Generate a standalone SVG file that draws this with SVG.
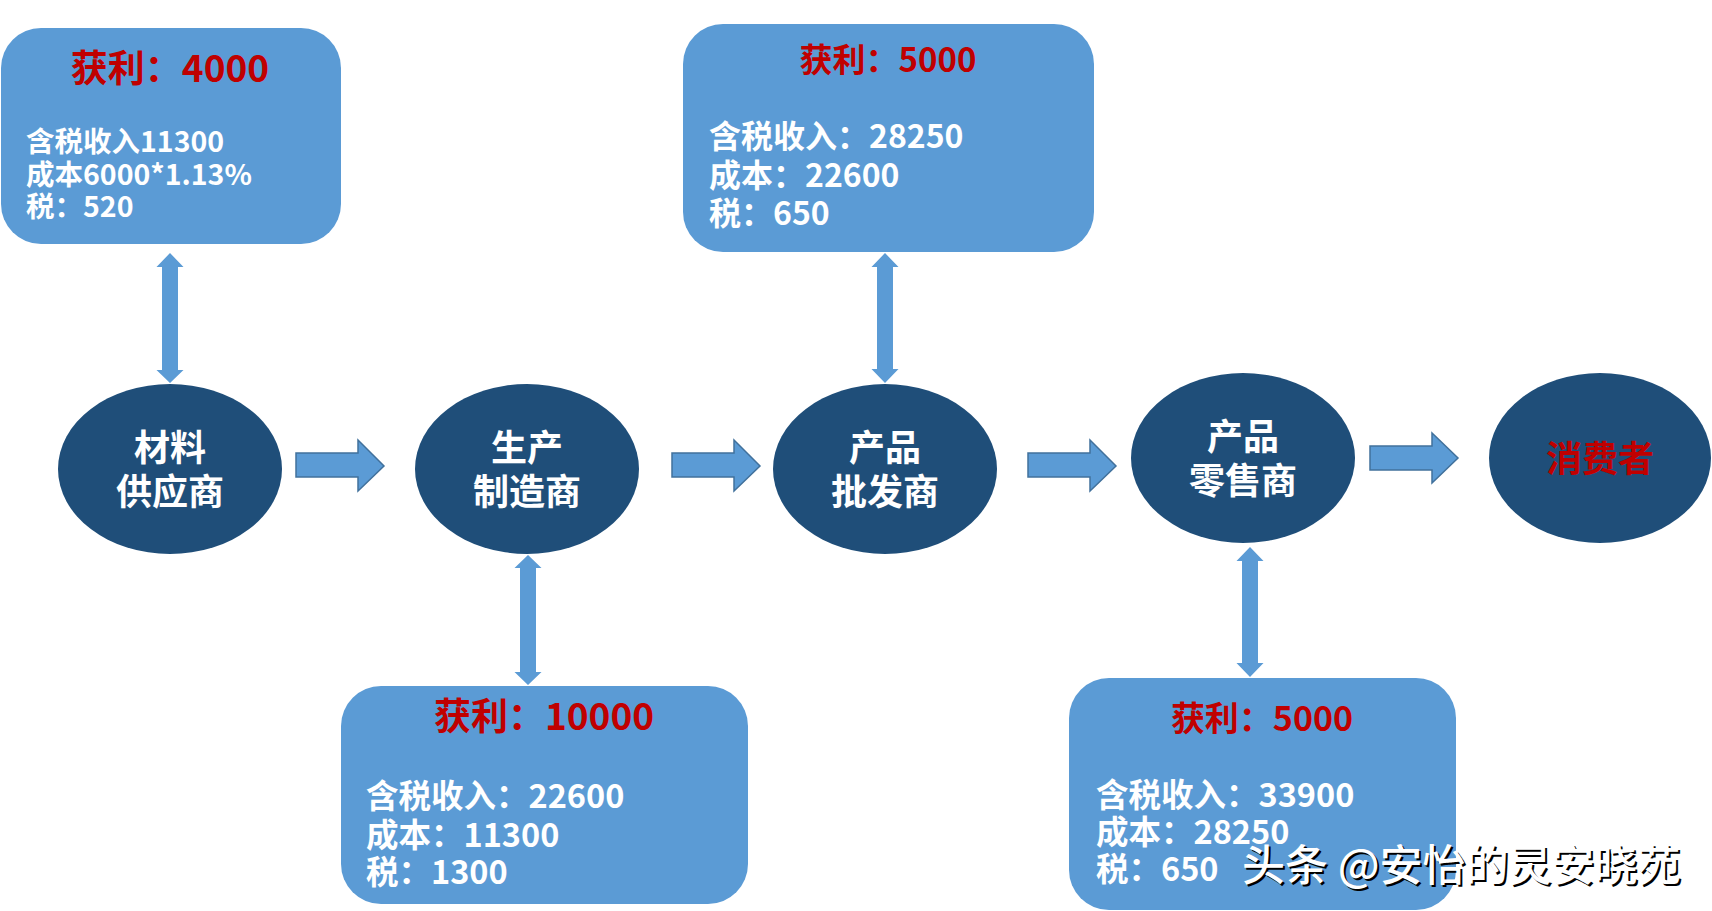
<svg xmlns="http://www.w3.org/2000/svg" width="1712" height="911" viewBox="0 0 1712 911">
<style>
.box{fill:#5B9BD5;}
.ell{fill:#1F4E79;}
.t{font-family:"Noto Sans CJK SC","Microsoft YaHei",sans-serif;font-weight:bold;}
.title{fill:#C00000;text-anchor:middle;}
.body{fill:#FFFFFF;}
.en{fill:#FFFFFF;text-anchor:middle;font-size:36px;}
.red{fill:#C00000;text-anchor:middle;font-size:36px;}
.harr{fill:#5B9BD5;stroke:#41719C;stroke-width:1.5;}
.varr{fill:#5B9BD5;}
.wm{font-family:"Noto Sans CJK SC",sans-serif;font-size:43px;font-weight:500;}
</style>
<rect width="1712" height="911" fill="#FFFFFF"/>

<g id="connectors">
  <polygon class="harr" points="296,453 358,453 358,440 384,466 358,491 358,477 296,477"/>
  <polygon class="harr" points="672,453 734,453 734,440 760,466 734,491 734,477 672,477"/>
  <polygon class="harr" points="1028,453 1090,453 1090,440 1116,466 1090,491 1090,477 1028,477"/>
  <polygon class="harr" points="1370,446 1432,446 1432,433 1458,458 1432,483 1432,470 1370,470"/>
  <polygon class="varr" points="170,253 183.5,267 178,267 178,370 183.5,370 170,383 156.5,370 162,370 162,267 156.5,267"/>
  <polygon class="varr" points="528,555 541.5,568 536,568 536,672 541.5,672 528,685 514.5,672 520,672 520,568 514.5,568"/>
  <polygon class="varr" points="885,253 898.5,267 893,267 893,369 898.5,369 885,383 871.5,369 877,369 877,267 871.5,267"/>
  <polygon class="varr" points="1250,547 1263.5,561 1258,561 1258,663 1263.5,663 1250,677 1236.5,663 1242,663 1242,561 1236.5,561"/>
</g>

<g id="box-supplier">
  <rect class="box" x="1" y="28" width="340" height="216" rx="40" ry="40"/>
  <text class="t title" x="170" y="82" font-size="37">获利：4000</text>
  <text class="t body" x="26" y="152" font-size="28.5">含税收入11300</text>
  <text class="t body" x="26" y="185" font-size="28.5">成本6000*1.13%</text>
  <text class="t body" x="26" y="217" font-size="28.5">税：520</text>
</g>

<g id="box-wholesaler">
  <rect class="box" x="683" y="24" width="411" height="228" rx="40" ry="40"/>
  <text class="t title" x="888" y="72" font-size="33">获利：5000</text>
  <text class="t body" x="709" y="148" font-size="32">含税收入：28250</text>
  <text class="t body" x="709" y="187" font-size="32">成本：22600</text>
  <text class="t body" x="709" y="225" font-size="32">税：650</text>
</g>

<g id="box-manufacturer">
  <rect class="box" x="341" y="686" width="407" height="218" rx="40" ry="40"/>
  <text class="t title" x="544" y="730" font-size="37">获利：10000</text>
  <text class="t body" x="366" y="808" font-size="32.5">含税收入：22600</text>
  <text class="t body" x="366" y="847" font-size="32.5">成本：11300</text>
  <text class="t body" x="366" y="884" font-size="32.5">税：1300</text>
</g>

<g id="box-retailer">
  <rect class="box" x="1069" y="678" width="387" height="232" rx="40" ry="40"/>
  <text class="t title" x="1262" y="731" font-size="34">获利：5000</text>
  <text class="t body" x="1096" y="807" font-size="32.5">含税收入：33900</text>
  <text class="t body" x="1096" y="844" font-size="32.5">成本：28250</text>
  <text class="t body" x="1096" y="881" font-size="32.5">税：650</text>
</g>

<g id="node-supplier">
  <ellipse class="ell" cx="170" cy="469" rx="112" ry="85"/>
  <text class="t en" x="170" y="461">材料</text>
  <text class="t en" x="170" y="505">供应商</text>
</g>

<g id="node-manufacturer">
  <ellipse class="ell" cx="527" cy="469" rx="112" ry="85"/>
  <text class="t en" x="527" y="461">生产</text>
  <text class="t en" x="527" y="505">制造商</text>
</g>

<g id="node-wholesaler">
  <ellipse class="ell" cx="885" cy="469" rx="112" ry="85"/>
  <text class="t en" x="885" y="461">产品</text>
  <text class="t en" x="885" y="505">批发商</text>
</g>

<g id="node-retailer">
  <ellipse class="ell" cx="1243" cy="458" rx="112" ry="85"/>
  <text class="t en" x="1243" y="450">产品</text>
  <text class="t en" x="1243" y="494">零售商</text>
</g>

<g id="node-consumer">
  <ellipse class="ell" cx="1600" cy="458" rx="111" ry="85"/>
  <text class="t red" x="1600" y="472">消费者</text>
</g>

<g id="watermark">
  <text class="wm" x="1244" y="883" fill="#000000">头条 @安怡的灵安晓苑</text>
  <text class="wm" x="1242" y="881" fill="#FFFFFF">头条 @安怡的灵安晓苑</text>
</g>
</svg>
